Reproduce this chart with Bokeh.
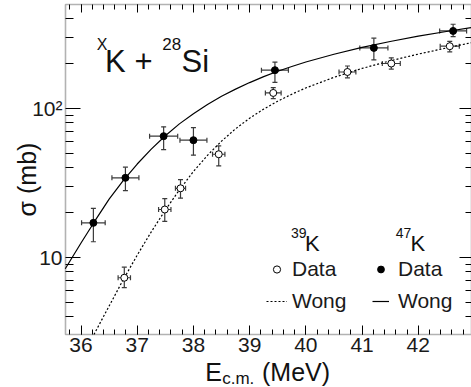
import math
from bokeh.plotting import figure
from bokeh.models import (ColumnDataSource, Whisker, TeeHead, Range1d, LinearAxis, LogAxis,
                          FixedTicker, Label, Legend, LegendItem, CustomJSTickFormatter,
                          BoxAnnotation)
from bokeh.embed import file_html
from bokeh.resources import INLINE

# ---------------- data ----------------
# 47K + 28Si measured cross sections
k47_e = [36.22, 36.79, 37.47, 38.00, 39.45, 41.21, 42.62]
k47_sigma = [17.0, 34.1, 64.9, 61.0, 180.0, 254.0, 330.0]
k47_sigma_lo = [12.7, 28.0, 52.8, 48.4, 149.0, 211.0, 302.0]
k47_sigma_hi = [21.3, 40.2, 75.0, 74.0, 204.0, 295.0, 366.0]
k47_e_err = [0.21, 0.24, 0.25, 0.24, 0.24, 0.25, 0.24]

# 39K + 28Si measured cross sections
k39_e = [36.77, 37.49, 37.77, 38.45, 39.42, 40.74, 41.52, 42.56]
k39_sigma = [7.28, 20.9, 29.0, 49.1, 126.6, 175.0, 199.5, 260.7]
k39_sigma_lo = [6.24, 17.4, 24.9, 41.0, 116.0, 160.0, 183.0, 239.0]
k39_sigma_hi = [8.57, 24.7, 33.2, 55.8, 137.6, 192.0, 218.0, 281.0]
k39_e_err = [0.11, 0.11, 0.09, 0.11, 0.14, 0.15, 0.16, 0.17]

# Wong curves
wong47_e = [35.72, 36.0, 36.25, 36.5, 36.75, 37.0, 37.25, 37.5, 37.75, 38.0, 38.25, 38.5,
            38.75, 39.0, 39.25, 39.5, 39.75, 40.0, 40.5, 41.0, 41.5, 42.0, 42.5, 42.95]
wong47_sigma = [8.36, 12.45, 17.58, 24.55, 32.7, 42.2, 53.1, 65.3, 78.5, 91.8, 105.9, 120.2,
                134.3, 148.6, 162.9, 177.0, 190.5, 204.2, 230.1, 255.9, 280.5, 304.8, 327.3, 348.3]

wong39_e = [36.23, 36.5, 36.75, 37.0, 37.25, 37.5, 37.75, 38.0, 38.25, 38.5, 38.75, 39.0,
            39.25, 39.5, 39.75, 40.0, 40.5, 41.0, 41.5, 42.0, 42.5, 42.95]
wong39_sigma = [3.03, 4.70, 7.05, 10.33, 14.8, 20.7, 28.3, 37.6, 48.3, 60.1, 72.8, 85.7,
                98.6, 111.4, 124.2, 136.8, 161.1, 184.9, 208.0, 230.7, 253.5, 275.4]

x_major_ticks = [36, 37, 38, 39, 40, 41, 42]
x_minor_ticks = [round(35.8 + 0.2 * i, 1) for i in range(36)]
y_major_ticks = [10, 100]
y_minor_ticks = [4, 5, 6, 7, 8, 9, 20, 30, 40, 50, 60, 70, 80, 90, 200, 300, 400]

# plot box limits (data units) and full canvas ranges
X_LO, X_HI = 35.724, 42.947
Y_LO, Y_HI = 3.029, 496.6

FONT = "Liberation Sans"
W, H = 471, 387

# ---------------- figure ----------------
p = figure(width=W, height=H, output_backend="svg", toolbar_location=None,
           x_range=Range1d(34.5676, X_HI), y_range=Range1d(1.3352, 528.3),
           y_axis_type="log", min_border=0)
p.xgrid.visible = False
p.ygrid.visible = False
p.outline_line_color = None
p.background_fill_color = "white"
p.border_fill_color = "white"

xt = FixedTicker(ticks=x_major_ticks, minor_ticks=x_minor_ticks)
yt = FixedTicker(ticks=y_major_ticks, minor_ticks=y_minor_ticks)

xa = p.xaxis[0]
xa.fixed_location = Y_LO
xa.ticker = xt
xa.major_tick_in, xa.major_tick_out = 9, 0
xa.minor_tick_in, xa.minor_tick_out = 5, 0
xa.major_label_text_font = FONT
xa.major_label_text_font_size = "21px"
xa.major_label_text_color = "#1a1a1a"
xa.major_label_standoff = 4
xa.axis_line_color = None

ya = p.yaxis[0]
ya.fixed_location = X_LO
ya.ticker = yt
ya.formatter = CustomJSTickFormatter(code="return tick >= 100 ? '10\u00b2' : '10';")
ya.major_tick_in, ya.major_tick_out = 15, 0
ya.minor_tick_in, ya.minor_tick_out = 8, 0
ya.major_label_text_font = FONT
ya.major_label_text_font_size = "21px"
ya.major_label_text_color = "#1a1a1a"
ya.major_label_standoff = 3
ya.axis_line_color = None

blank = CustomJSTickFormatter(code="return '';")
top = LinearAxis(ticker=xt, formatter=blank, fixed_location=Y_HI,
                 major_tick_in=8, major_tick_out=0, minor_tick_in=5, minor_tick_out=0,
                 major_label_standoff=0, major_label_text_font_size="0px",
                 axis_line_color=None)
p.add_layout(top, "above")
right = LogAxis(ticker=yt, formatter=blank, fixed_location=X_HI,
                major_tick_in=12, major_tick_out=0, minor_tick_in=6, minor_tick_out=0,
                major_label_standoff=0, major_label_text_font_size="0px",
                axis_line_color=None)
p.add_layout(right, "right")

# plot box (spines)
p.add_layout(BoxAnnotation(left=X_LO, right=X_HI, bottom=Y_LO, top=Y_HI,
                           fill_alpha=0, line_color="black", line_width=1.6,
                           level="underlay"))

# ---------------- curves ----------------
r_solid = p.line(wong47_e, wong47_sigma, line_color="black", line_width=1.2)
r_dash = p.line(wong39_e, wong39_sigma, line_color="black", line_width=1.2, line_dash="2 2")

# ---------------- data with error bars ----------------
EB = "#3a3a3a"
s47 = ColumnDataSource(dict(x=k47_e, y=k47_sigma, lo=k47_sigma_lo, hi=k47_sigma_hi,
                            xlo=[a - b for a, b in zip(k47_e, k47_e_err)],
                            xhi=[a + b for a, b in zip(k47_e, k47_e_err)]))
s39 = ColumnDataSource(dict(x=k39_e, y=k39_sigma, lo=k39_sigma_lo, hi=k39_sigma_hi,
                            xlo=[a - b for a, b in zip(k39_e, k39_e_err)],
                            xhi=[a + b for a, b in zip(k39_e, k39_e_err)]))
for src in (s47, s39):
    p.add_layout(Whisker(source=src, base="x", lower="lo", upper="hi", dimension="height",
                         line_color=EB, line_width=1.2,
                         lower_head=TeeHead(size=5, line_color=EB, line_width=1.2),
                         upper_head=TeeHead(size=5, line_color=EB, line_width=1.2)))
    p.add_layout(Whisker(source=src, base="y", lower="xlo", upper="xhi", dimension="width",
                         line_color=EB, line_width=1.2,
                         lower_head=TeeHead(size=5, line_color=EB, line_width=1.2),
                         upper_head=TeeHead(size=5, line_color=EB, line_width=1.2)))

r_filled = p.scatter("x", "y", source=s47, size=7, marker="circle",
                     fill_color="black", line_color="black")
r_open = p.scatter("x", "y", source=s39, size=7, marker="circle",
                   fill_color="white", line_color="black", line_width=1)

# ---------------- legends ----------------
def make_legend(items, loc, gw, standoff):
    lg = Legend(items=items, location=loc, orientation="vertical",
                glyph_width=gw, glyph_height=18, label_height=18, label_standoff=standoff,
                label_text_font=FONT, label_text_font_size="21px", label_text_color="#1a1a1a",
                spacing=8, padding=0, margin=0, border_line_alpha=0,
                background_fill_alpha=0)
    p.add_layout(lg)

make_legend([LegendItem(label="Data", renderers=[r_open]),
             LegendItem(label="Wong", renderers=[r_dash])], (266, 74), 21, 5)
make_legend([LegendItem(label="Data", renderers=[r_filled]),
             LegendItem(label="Wong", renderers=[r_solid])], (372, 74), 17, 9)

# ---------------- texts (screen px from the canvas bottom-left) ----------------
def lab(x, y, text, size, **kw):
    kw.setdefault("text_baseline", "alphabetic")
    p.add_layout(Label(x=x, y=y, x_units="screen", y_units="screen", text=text,
                       text_font=FONT, text_font_size=size, text_color="#111111", **kw))

# title  xK + 28Si
lab(96.2, 343.5, "X", "16px")
lab(104.6, 326.3, "K + ", "31px")
lab(161.7, 343.8, "28", "17px")
lab(181.0, 326.3, "Si", "31px")

# legend headers
lab(290.5, 154.3, "39", "14px")
lab(304.5, 143.7, "K", "22px")
lab(395.2, 154.3, "47", "14px")
lab(410.0, 143.7, "K", "22px")

# axis titles
lab(26, 208, "\u03c3 (mb)", "25px", angle=math.pi / 2, text_align="center",
    text_baseline="middle")
lab(204.7, 15.5, "E", "25px")
lab(221.7, 9.5, "c.m.", "17px")
lab(261.5, 15.5, "(MeV)", "25px")

open("out.html", "w").write(file_html(p, INLINE))
